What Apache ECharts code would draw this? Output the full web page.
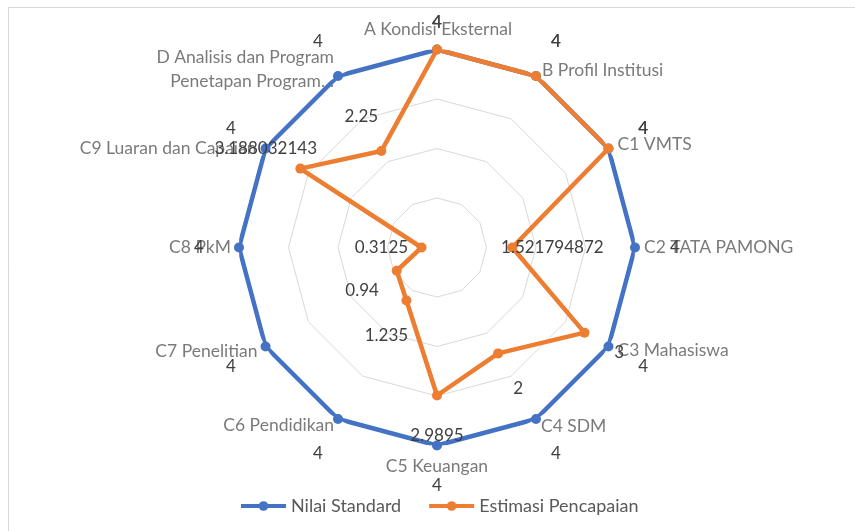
<!DOCTYPE html>
<html>
<head>
<meta charset="utf-8">
<script src="https://cdn.jsdelivr.net/npm/echarts@6/dist/echarts.min.js"></script>
<style>
html,body{margin:0;padding:0;background:#fff;}
#chart{width:855px;height:531px;}
</style>
</head>
<body>
<div id="chart"></div>
<script>
// ---- data ----
const categories = [
  'A Kondisi Eksternal', 'B Profil Institusi', 'C1 VMTS', 'C2 TATA PAMONG',
  'C3 Mahasiswa', 'C4 SDM', 'C5 Keuangan', 'C6 Pendidikan', 'C7 Penelitian',
  'C8 PkM', 'C9 Luaran dan Capaian', 'D Analisis dan Program\nPenetapan Program…'
];
const seriesNames = ['Nilai Standard', 'Estimasi Pencapaian'];
const nilaiStandard = [4, 4, 4, 4, 4, 4, 4, 4, 4, 4, 4, 4];
const estimasiPencapaian = [4, 4, 4, 1.521794872, 3.44, 2.47, 2.9895, 1.235, 0.94, 0.3125, 3.188032143, 2.25];
const nilaiStandardLabels = ['4', '4', '4', '4', '4', '4', '4', '4', '4', '4', '4', '4'];
const estimasiLabels = ['4', '4', '4', '1.521794872', '3', '2', '2.9895', '1.235', '0.94', '0.3125', '3.188032143', '2.25'];
const axisMax = 4;

// ---- layout / style ----
const CENTER = [437, 247.5];
const RADIUS = 198;
const FONT = 'Lato';
const NAME_SIZE = 17.5;
const VALUE_SIZE = 17;
const N = categories.length;
const STEP = 360 / N;

// category name placement relative to the outer vertex
const nameLayout = [
  {align: 'center', off: [1, -20]},
  {align: 'left', off: [6, -6]},
  {align: 'left', off: [9, -4]},
  {align: 'left', off: [9, 0]},
  {align: 'left', off: [9, 4]},
  {align: 'left', off: [5, 7]},
  {align: 'center', off: [0, 21]},
  {align: 'right', off: [-4, 6]},
  {align: 'right', off: [-8, 5]},
  {align: 'right', off: [-8, 0]},
  {align: 'right', off: [-9, 0]},
  {align: 'right', off: [-4, -7]}
];

function labelOffset(i) {
  const a = i * STEP * Math.PI / 180;
  const d = 40;
  let dx = d * Math.sin(a), dy = -d * Math.cos(a);
  if (i === 0) dy = -27;
  return [dx, dy];
}

function lineData(vals, labels) {
  const out = vals.map((v, i) => ({
    value: [v, i],
    label: {show: true, formatter: labels[i], position: 'inside', offset: labelOffset(i)}
  }));
  out.push({value: [vals[0], N], label: {show: false}, symbolSize: 0});
  return out;
}

const nameData = categories.map((c, i) => ({
  value: [axisMax, i],
  label: {
    show: true, formatter: c, position: 'inside',
    align: nameLayout[i].align, verticalAlign: 'middle',
    offset: nameLayout[i].off
  }
}));

const chart = echarts.init(document.getElementById('chart'), null, {renderer: 'canvas'});
chart.setOption({
  animation: false,
  backgroundColor: '#ffffff',
  graphic: [{
    type: 'rect', shape: {x: 8.5, y: 7.5, width: 900, height: 600},
    style: {fill: 'none', stroke: '#d9d9d9', lineWidth: 1}, silent: true, z: -10
  }],
  radar: {
    center: CENTER, radius: RADIUS, startAngle: 90,
    splitNumber: 4, shape: 'polygon',
    indicator: categories.map(c => ({name: c, min: 0, max: axisMax})),
    axisName: {show: false},
    axisLine: {show: false},
    axisTick: {show: false},
    axisLabel: {show: false},
    splitArea: {show: false},
    splitLine: {lineStyle: {color: '#d9d9d9', width: 1}}
  },
  polar: {center: CENTER, radius: RADIUS},
  angleAxis: {
    type: 'value', min: 0, max: N, startAngle: 90, clockwise: true,
    axisLine: {show: false}, axisTick: {show: false}, axisLabel: {show: false}, splitLine: {show: false}
  },
  radiusAxis: {
    type: 'value', min: 0, max: axisMax,
    axisLine: {show: false}, axisTick: {show: false}, axisLabel: {show: false}, splitLine: {show: false}
  },
  legend: {
    data: seriesNames,
    left: 234, top: 492,
    itemWidth: 45, itemHeight: 12, itemGap: 26,
    lineStyle: {width: 4},
    textStyle: {fontFamily: FONT, fontSize: 18, color: '#595959'}
  },
  series: [
    {
      type: 'scatter', coordinateSystem: 'polar', name: 'names',
      symbolSize: 0, silent: true, z: 1,
      label: {fontFamily: FONT, fontSize: NAME_SIZE, color: '#595959', lineHeight: 24},
      data: nameData
    },
    {
      type: 'line', coordinateSystem: 'polar', name: seriesNames[0],
      symbol: 'circle', symbolSize: 10, z: 3,
      itemStyle: {color: '#4472C4'},
      lineStyle: {color: '#4472C4', width: 4.5},
      label: {fontFamily: FONT, fontSize: VALUE_SIZE, color: '#404040'},
      data: lineData(nilaiStandard, nilaiStandardLabels)
    },
    {
      type: 'line', coordinateSystem: 'polar', name: seriesNames[1],
      symbol: 'circle', symbolSize: 10, z: 4,
      itemStyle: {color: '#ED7D31'},
      lineStyle: {color: '#ED7D31', width: 4.5},
      label: {fontFamily: FONT, fontSize: VALUE_SIZE, color: '#404040'},
      data: lineData(estimasiPencapaian, estimasiLabels)
    }
  ]
});
</script>
</body>
</html>
